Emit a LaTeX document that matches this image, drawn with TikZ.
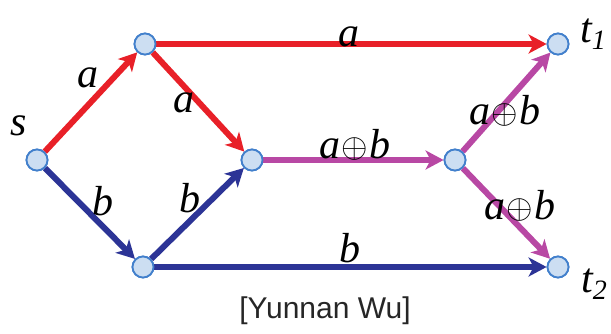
\documentclass[tikz,border=0pt]{standalone}
\usepackage{amsmath,amssymb}
\usepackage{fontspec}
\setmainfont{Liberation Serif}
\newfontfamily\capfont{Liberation Sans}
\usepackage{tikz}
\usetikzlibrary{arrows.meta,positioning,calc}
\definecolor{flowred}{RGB}{232,32,40}
\definecolor{flowblue}{RGB}{44,52,150}
\definecolor{flowmix}{RGB}{184,72,164}
\definecolor{vfill}{RGB}{204,222,242}
\definecolor{vline}{RGB}{66,128,204}
\newcommand{\xorlabel}{a\kern1pt\raisebox{1pt}{\scalebox{3.4}{\normalsize$\oplus$}}\kern2pt b}

\begin{document}
\begin{tikzpicture}[x=1pt,y=-1pt,
	vtx/.style={circle, draw=vline, fill=vfill, line width=1.8pt, minimum size=21pt, inner sep=0pt},
	flow/.style={line width=6pt, -{Stealth[length=18pt,width=19pt,inset=5pt]}},
	lbl/.style={font=\fontsize{42}{46}\selectfont\itshape, inner sep=0pt}]
\useasboundingbox (0,0) rectangle (611,333);
\node[vtx] (s) at (37,160) {};
\node[vtx] (u) at (145,44) {};
\node[vtx] (w) at (143,267) {};
\node[vtx] (x) at (252,160) {};
\node[vtx] (y) at (455,160) {};
\node[vtx] (t1) at (558,44) {};
\node[vtx] (t2) at (558,267) {};
\draw[flow, flowred] (s) -- (u);
\draw[flow, flowred] (u) -- (x);
\draw[flow, flowred] (u) -- (t1);
\draw[flow, flowblue] (s) -- (w);
\draw[flow, flowblue] (w) -- (x);
\draw[flow, flowblue] (w) -- (t2);
\draw[flow, flowmix] (x) -- (y);
\draw[flow, flowmix] (y) -- (t1);
\draw[flow, flowmix] (y) -- (t2);
\node[vtx] at (s) {};
\node[vtx] at (u) {};
\node[vtx] at (w) {};
\node[vtx] at (x) {};
\node[vtx] at (y) {};
\node[vtx] at (t1) {};
\node[vtx] at (t2) {};
\node[lbl] (ls) at (19,126) {s};
\node[lbl] (lt1) at (593,34) {t{\fontsize{28}{30}\selectfont\raisebox{-7pt}{1}}};
\node[lbl] (lt2) at (594,284) {t{\fontsize{28}{30}\selectfont\raisebox{-7pt}{2}}};
\node[lbl] (la1) at (88,78) {a};
\node[lbl] (la2) at (184,103) {a};
\node[lbl] (la3) at (349,37) {a};
\node[lbl] (lb1) at (103,201) {b};
\node[lbl] (lb2) at (190,198) {b};
\node[lbl] (lb3) at (350,248) {b};
\node[lbl] (lm1) at (355,145) {\xorlabel};
\node[lbl] (lm2) at (505,111) {\xorlabel};
\node[lbl] (lm3) at (520,206) {\xorlabel};
\node[font=\capfont\fontsize{30}{34}\selectfont, text=black!85, inner sep=0pt] (cite) at (325,311) {[Yunnan Wu]};
\end{tikzpicture}
\end{document}
